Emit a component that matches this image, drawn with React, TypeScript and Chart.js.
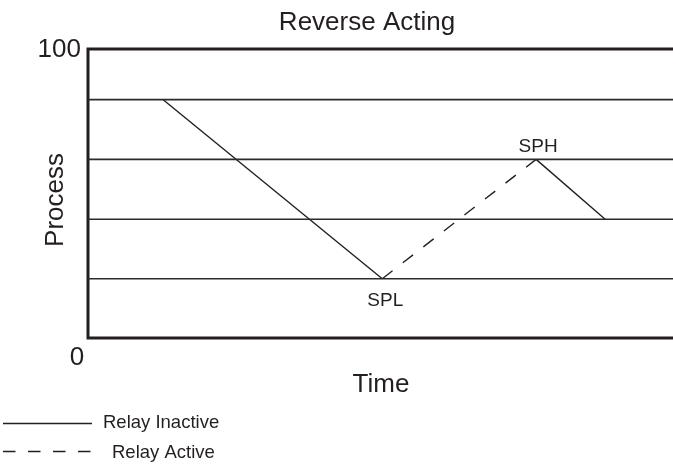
import React, { useEffect, useRef } from "react";
import Chart from "chart.js/auto";

// ---- data ----
const chartTitle = "Reverse Acting";
const xAxisTitle = "Time";
const yAxisTitle = "Process";
const yTickValues = [0, 100];
const yTickLabels = ["0", "100"];
const gridLevels = [20.5, 41.1, 61.8, 82.5];

const timeInactiveA = [12.8, 50.3];
const processInactiveA = [82.5, 20.5];
const timeActive = [50.3, 76.6];
const processActive = [20.5, 61.8];
const timeInactiveB = [76.6, 88.4];
const processInactiveB = [61.8, 41.1];

const setpointLabels = ["SPL", "SPH"];
const setpointTimes = [50.3, 76.6];
const setpointValues = [20.5, 61.8];

const legendLabels = ["Relay Inactive", "Relay Active"];

const INK = "#231f20";
const FONT = '"Liberation Sans", Arial, Helvetica, sans-serif';

const toPoints = (xs: number[], ys: number[]) => xs.map((x, i) => ({ x, y: ys[i] }));

const decorPlugin = {
  id: "decor",
  beforeDatasetsDraw(chart: any) {
    const { ctx, chartArea } = chart;
    ctx.save();
    ctx.strokeStyle = INK;
    ctx.lineWidth = 3;
    ctx.lineCap = "square";
    ctx.beginPath();
    ctx.moveTo(chartArea.right + 2, chartArea.top);
    ctx.lineTo(chartArea.left, chartArea.top);
    ctx.lineTo(chartArea.left, chartArea.bottom);
    ctx.lineTo(chartArea.right + 2, chartArea.bottom);
    ctx.stroke();
    ctx.restore();
  },
  afterDraw(chart: any) {
    const { ctx, chartArea, scales } = chart;
    const xs = scales.x;
    const ys = scales.y;
    ctx.save();
    ctx.fillStyle = INK;

    // title
    ctx.font = `26px ${FONT}`;
    ctx.textAlign = "center";
    ctx.textBaseline = "alphabetic";
    ctx.fillText(chartTitle, 367, 30);

    // y tick labels
    yTickValues.forEach((v, i) => {
      const py = ys.getPixelForValue(v);
      if (v === 0) {
        ctx.textAlign = "center";
        ctx.fillText(yTickLabels[i], chartArea.left - 11, py + 27);
      } else {
        ctx.textAlign = "right";
        ctx.fillText(yTickLabels[i], chartArea.left - 7, py + 8);
      }
    });

    // axis titles
    ctx.textAlign = "center";
    ctx.fillText(xAxisTitle, 381, 392);
    ctx.save();
    ctx.translate(63, 200);
    ctx.rotate(-Math.PI / 2);
    ctx.fillText(yAxisTitle, 0, 0);
    ctx.restore();

    // setpoint labels
    ctx.font = `19px ${FONT}`;
    setpointLabels.forEach((lab, i) => {
      const px = xs.getPixelForValue(setpointTimes[i]);
      const py = ys.getPixelForValue(setpointValues[i]);
      if (i === 0) ctx.fillText(lab, px + 3, py + 27);
      else ctx.fillText(lab, px + 2, py - 7);
    });

    // legend
    ctx.strokeStyle = INK;
    ctx.lineWidth = 1.4;
    ctx.beginPath();
    ctx.moveTo(3, 423.5);
    ctx.lineTo(92, 423.5);
    ctx.stroke();
    ctx.setLineDash([12.5, 12.5]);
    ctx.beginPath();
    ctx.moveTo(3, 451.5);
    ctx.lineTo(91, 451.5);
    ctx.stroke();
    ctx.setLineDash([]);
    ctx.font = `18.5px ${FONT}`;
    ctx.textAlign = "left";
    ctx.fillText(legendLabels[0], 103, 427.5);
    ctx.fillText(legendLabels[1], 112, 457.5);
    ctx.restore();
  },
};

export default function App() {
  const canvasRef = useRef<HTMLCanvasElement | null>(null);

  useEffect(() => {
    if (!canvasRef.current) return;
    const gridSets = gridLevels.map((v) => ({
      label: "grid",
      data: [
        { x: 0, y: v },
        { x: 100, y: v },
      ],
      borderColor: "#2b2b2b",
      borderWidth: 1.6,
      pointRadius: 0,
    }));
    const chart = new Chart(canvasRef.current, {
      type: "line",
      data: {
        datasets: [
          ...gridSets,
          {
            label: legendLabels[0],
            data: toPoints(timeInactiveA, processInactiveA),
            borderColor: INK,
            borderWidth: 1.4,
            pointRadius: 0,
          },
          {
            label: legendLabels[1],
            data: toPoints(timeActive, processActive),
            borderColor: INK,
            borderWidth: 1.4,
            borderDash: [13, 13],
            pointRadius: 0,
          },
          {
            label: legendLabels[0],
            data: toPoints(timeInactiveB, processInactiveB),
            borderColor: INK,
            borderWidth: 1.4,
            pointRadius: 0,
          },
        ],
      },
      options: {
        animation: false,
        responsive: false,
        devicePixelRatio: 1,
        layout: { padding: { left: 88, top: 49, right: 0, bottom: 126 } },
        scales: {
          x: { type: "linear", min: 0, max: 100, display: false },
          y: { type: "linear", min: 0, max: 100, display: false },
        },
        plugins: {
          legend: { display: false },
          title: { display: false },
          tooltip: { enabled: false },
        },
        elements: { line: { tension: 0 } },
      },
      plugins: [decorPlugin],
    });
    return () => chart.destroy();
  }, []);

  return (
    <div style={{ position: "absolute", left: 0, top: 0, width: 673, height: 464, background: "#fff" }}>
      <canvas ref={canvasRef} width={673} height={464} style={{ display: "block" }} />
    </div>
  );
}
